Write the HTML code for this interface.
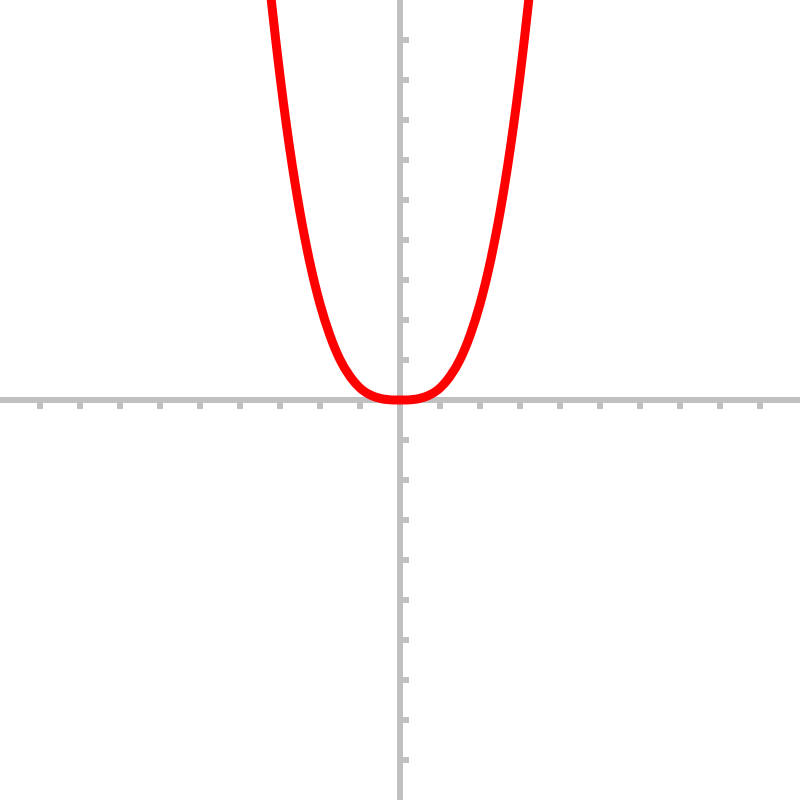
<!DOCTYPE html>
<html><head><meta charset="utf-8"><style>html,body{margin:0;padding:0;background:#fff}svg{display:block}</style></head>
<body>
<svg id="chart" width="800" height="800" viewBox="0 0 800 800" xmlns="http://www.w3.org/2000/svg">
<g id="axes"></g>
<g id="series"></g>
</svg>
<script>
const xValues = [-3.5,-3.25,-3,-2.75,-2.5,-2.25,-2,-1.75,-1.5,-1.25,-1,-0.75,-0.5,-0.25,0,0.25,0.5,0.75,1,1.25,1.5,1.75,2,2.25,2.5,2.75,3,3.25,3.5];
const yValues = [12.9,10.3,8.1,6.24,4.69,3.42,2.4,1.61,1.01,0.59,0.3,0.13,0.04,0.005,0,0.005,0.04,0.13,0.3,0.59,1.01,1.61,2.4,3.42,4.69,6.24,8.1,10.3,12.9];
const xTicks = [-9,-8,-7,-6,-5,-4,-3,-2,-1,1,2,3,4,5,6,7,8,9];
const yTicks = [-9,-8,-7,-6,-5,-4,-3,-2,-1,1,2,3,4,5,6,7,8,9];
const NS='http://www.w3.org/2000/svg';
const sx = v => 400 + v*40;
const sy = v => 400 - v*40;
const axes=document.getElementById('axes');
function line(x1,y1,x2,y2,w){const l=document.createElementNS(NS,'line');l.setAttribute('x1',x1);l.setAttribute('y1',y1);l.setAttribute('x2',x2);l.setAttribute('y2',y2);l.setAttribute('stroke','#c0c0c0');l.setAttribute('stroke-width',w);axes.appendChild(l);return l;}
let a=line(0,sy(0),800,sy(0),6);


a=line(sx(0),0,sx(0),800,6);


xTicks.forEach(t=>{const l=line(sx(t),403,sx(t),409,6);

});
yTicks.forEach(t=>{const l=line(403,sy(t),409,sy(t),6);

});
const p=document.createElementNS(NS,'path');
let d='';
for(let i=0;i<xValues.length;i++){const X=sx(xValues[i]),Y=sy(yValues[i]);
 if(i===0){d+='M'+X+','+Y;}else{const x0=sx(xValues[Math.max(i-2,0)]),y0=sy(yValues[Math.max(i-2,0)]);const x1=sx(xValues[i-1]),y1=sy(yValues[i-1]);const x3=sx(xValues[Math.min(i+1,xValues.length-1)]),y3=sy(yValues[Math.min(i+1,xValues.length-1)]);
 d+=' C'+(x1+(X-x0)/6)+','+(y1+(Y-y0)/6)+' '+(X-(x3-x1)/6)+','+(Y-(y3-y1)/6)+' '+X+','+Y;}}
p.setAttribute('d',d);p.setAttribute('fill','none');p.setAttribute('stroke','#ff0000');p.setAttribute('stroke-width','9');p.setAttribute('stroke-linejoin','round');


document.getElementById('series').appendChild(p);
</script>
</body></html>
